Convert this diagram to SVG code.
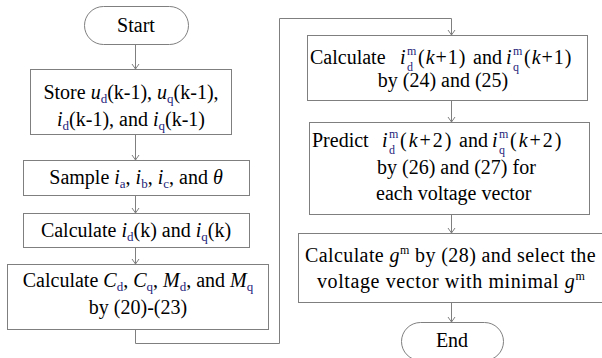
<svg xmlns="http://www.w3.org/2000/svg" width="602" height="358" viewBox="0 0 602 358">
<style>
.b{fill:#fff;stroke:#7f7f7f;stroke-width:1}
.t{font-family:"Liberation Serif","Times New Roman",serif;font-size:20px;fill:#000}
.i{font-style:italic}
.s{font-size:13px;fill:#23237a}
.sm{font-family:"Liberation Serif","Times New Roman",serif;font-size:12px;fill:#23237a}
.c{fill:none;stroke:#7f7f7f;stroke-width:1}
</style>
<defs>
<marker id="ah" markerUnits="userSpaceOnUse" markerWidth="10" markerHeight="10" viewBox="-6 -5 8 10" refX="0" refY="0" orient="auto">
<path d="M-5,-3.5 L0,0 L-5,3.5" fill="none" stroke="#7f7f7f" stroke-width="1"/>
</marker>
</defs>
<rect width="602" height="358" fill="#fff"/>
<g id="connectors">
<line class="c" x1="135.5" y1="44" x2="135.5" y2="69" marker-end="url(#ah)"/>
<line class="c" x1="135.5" y1="134" x2="135.5" y2="160" marker-end="url(#ah)"/>
<line class="c" x1="135.5" y1="195" x2="135.5" y2="213" marker-end="url(#ah)"/>
<line class="c" x1="135.5" y1="247" x2="135.5" y2="264" marker-end="url(#ah)"/>
<polyline class="c" points="135.5,329 135.5,343.5 279.5,343.5 279.5,18.5 451.5,18.5 451.5,35" marker-end="url(#ah)"/>
<line class="c" x1="451.5" y1="100" x2="451.5" y2="122" marker-end="url(#ah)"/>
<line class="c" x1="451.5" y1="214" x2="451.5" y2="233" marker-end="url(#ah)"/>
<line class="c" x1="451.5" y1="302" x2="451.5" y2="322" marker-end="url(#ah)"/>
</g>
<g id="start">
<rect class="b" x="84.5" y="6.5" width="104" height="38" rx="19"/>
<text class="t" x="136" y="32" text-anchor="middle">Start</text>
</g>
<g id="store">
<rect class="b" x="30.5" y="69.5" width="201" height="65"/>
<text class="t" x="131" y="99" text-anchor="middle">Store <tspan class="i">u</tspan><tspan class="s" dy="4">d</tspan><tspan dy="-4">(k-1), </tspan><tspan class="i">u</tspan><tspan class="s" dy="4">q</tspan><tspan dy="-4">(k-1),</tspan></text>
<text class="t" x="131" y="126" text-anchor="middle"><tspan class="i">i</tspan><tspan class="s" dy="4">d</tspan><tspan dy="-4">(k-1), and </tspan><tspan class="i">i</tspan><tspan class="s" dy="4">q</tspan><tspan dy="-4">(k-1)</tspan></text>
</g>
<g id="sample">
<rect class="b" x="23.5" y="160.5" width="226" height="35"/>
<text class="t" x="136" y="184" text-anchor="middle">Sample <tspan class="i">i</tspan><tspan class="s" dy="4">a</tspan><tspan dy="-4">, </tspan><tspan class="i">i</tspan><tspan class="s" dy="4">b</tspan><tspan dy="-4">, </tspan><tspan class="i">i</tspan><tspan class="s" dy="4">c</tspan><tspan dy="-4">, and </tspan><tspan class="i">θ</tspan></text>
</g>
<g id="calc-idq">
<rect class="b" x="23.5" y="213.5" width="226" height="34"/>
<text class="t" x="136" y="237" text-anchor="middle">Calculate <tspan class="i">i</tspan><tspan class="s" dy="4">d</tspan><tspan dy="-4">(k) and </tspan><tspan class="i">i</tspan><tspan class="s" dy="4">q</tspan><tspan dy="-4">(k)</tspan></text>
</g>
<g id="calc-cm">
<rect class="b" x="7.5" y="264.5" width="261" height="65"/>
<text class="t" x="138" y="287" text-anchor="middle">Calculate <tspan class="i">C</tspan><tspan class="s" dy="4">d</tspan><tspan dy="-4">, </tspan><tspan class="i">C</tspan><tspan class="s" dy="4">q</tspan><tspan dy="-4">, </tspan><tspan class="i">M</tspan><tspan class="s" dy="4">d</tspan><tspan dy="-4">, and </tspan><tspan class="i">M</tspan><tspan class="s" dy="4">q</tspan></text>
<text class="t" x="138" y="314" text-anchor="middle">by (20)-(23)</text>
</g>
<g id="calc-k1">
<rect class="b" x="307.5" y="35.5" width="280" height="65"/>
<text class="t" x="310" y="64">Calculate</text>
<text class="t i" x="400" y="64">i</text>
<text class="sm" x="407" y="55">m</text>
<text class="sm" x="407" y="71">d</text>
<text class="t" x="418" y="64" letter-spacing="1">(<tspan class="i">k</tspan>+1)</text>
<text class="t" x="473" y="64">and</text>
<text class="t i" x="506" y="64">i</text>
<text class="sm" x="513" y="55">m</text>
<text class="sm" x="513" y="71">q</text>
<text class="t" x="524" y="64" letter-spacing="1">(<tspan class="i">k</tspan>+1)</text>
<text class="t" x="443" y="87" text-anchor="middle">by (24) and (25)</text>
</g>
<g id="predict">
<rect class="b" x="309.5" y="122.5" width="280" height="92"/>
<text class="t" x="312" y="147">Predict</text>
<text class="t i" x="382" y="147">i</text>
<text class="sm" x="389" y="138">m</text>
<text class="sm" x="389" y="154">d</text>
<text class="t" x="400" y="147" letter-spacing="2">(<tspan class="i">k</tspan>+2)</text>
<text class="t" x="459" y="147">and</text>
<text class="t i" x="492" y="147">i</text>
<text class="sm" x="499" y="138">m</text>
<text class="sm" x="499" y="154">q</text>
<text class="t" x="510" y="147" letter-spacing="2">(<tspan class="i">k</tspan>+2)</text>
<text class="t" x="377" y="174">by (26) and (27) for</text>
<text class="t" x="376" y="200">each voltage vector</text>
</g>
<g id="calc-g">
<rect class="b" x="298.5" y="233.5" width="310" height="69"/>
<text class="t" x="305" y="262" letter-spacing="0.4">Calculate <tspan class="i">g</tspan><tspan font-size="12" dy="-8">m</tspan><tspan dy="8"> by (28) and select the</tspan></text>
<text class="t" x="317" y="288" letter-spacing="0.6">voltage vector with minimal <tspan class="i">g</tspan><tspan font-size="12" dy="-8">m</tspan></text>
</g>
<g id="end">
<rect class="b" x="401.5" y="322.5" width="102" height="38" rx="19"/>
<text class="t" x="452" y="347" text-anchor="middle">End</text>
</g>
</svg>
